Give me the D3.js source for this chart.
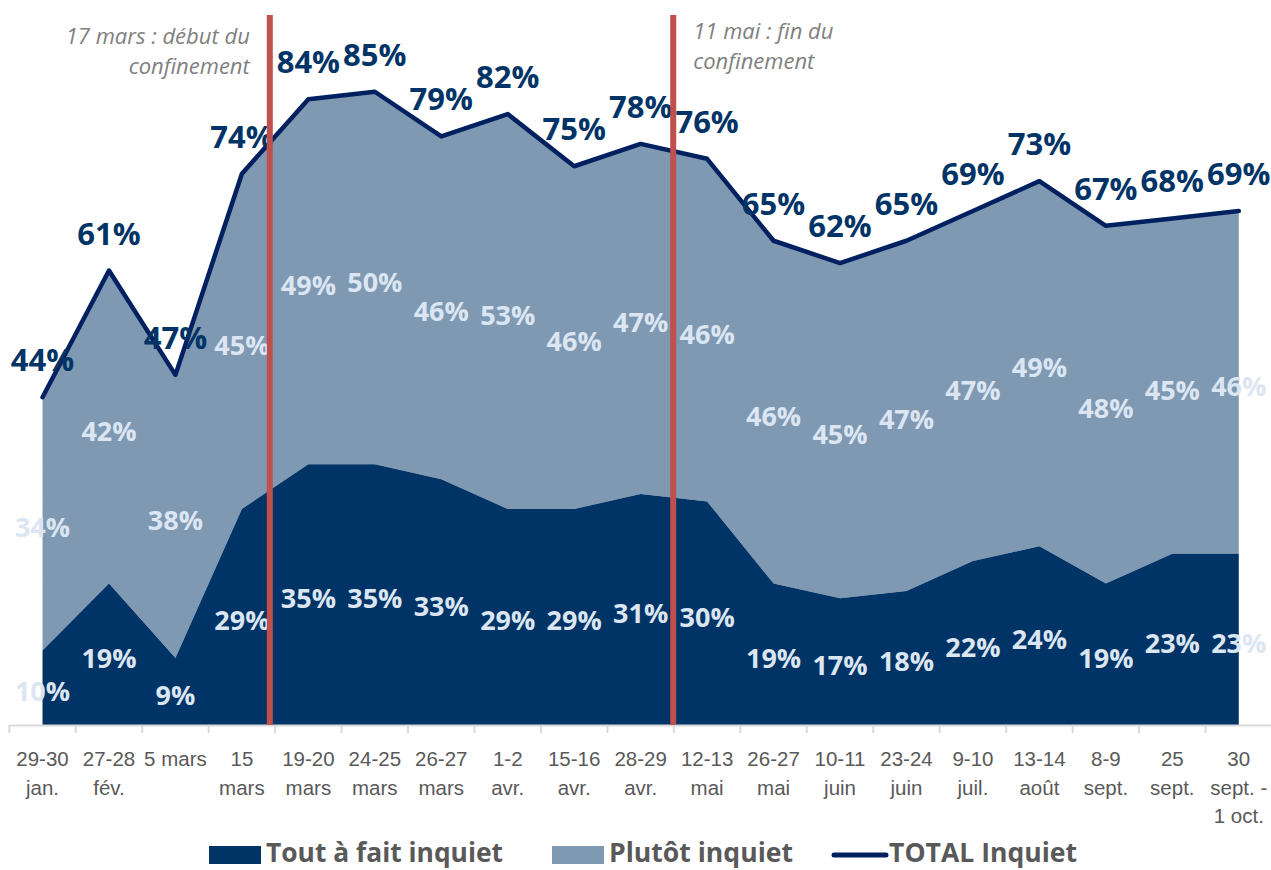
<!DOCTYPE html>
<html lang="fr">
<head>
<meta charset="UTF-8">
<title>Inquiétude</title>
<script src="https://d3js.org/d3.v7.min.js"></script>
<style>
  body {margin: 0; background: #fff;}
  svg {display: block; font-family: "Open Sans", sans-serif;}
</style>
</head>
<body>
<svg id="chart" width="1271" height="870"></svg>
<script>
// data
let categories = ["29-30\njan.", "27-28\nfév.", "5 mars", "15\nmars", "19-20\nmars", "24-25\nmars",
    "26-27\nmars", "1-2\navr.", "15-16\navr.", "28-29\navr.", "12-13\nmai", "26-27\nmai",
    "10-11\njuin", "23-24\njuin", "9-10\njuil.", "13-14\naoût", "8-9\nsept.", "25\nsept.",
    "30\nsept. -\n1 oct."];
let toutAFait = [10, 19, 9, 29, 35, 35, 33, 29, 29, 31, 30, 19, 17, 18, 22, 24, 19, 23, 23];
let plutot = [34, 42, 38, 45, 49, 50, 46, 53, 46, 47, 46, 46, 45, 47, 47, 49, 48, 45, 46];
let total = [44, 61, 47, 74, 84, 85, 79, 82, 75, 78, 76, 65, 62, 65, 69, 73, 67, 68, 69];
let seriesNames = ["Tout à fait inquiet", "Plutôt inquiet", "TOTAL Inquiet"];
let events = [
    {after: 3, lines: ["17 mars : début du", "confinement"]},
    {after: 9, lines: ["11 mai : fin du", "confinement"]}
];

const svg = d3.select("#chart");
const colDark = "#003366", colLight = "#7f99b3", colLine = "#002060";
const colLabel = "#dce6f2", colTotal = "#003366";

let x = d3.scaleBand().domain(categories).range([9.3, 1272]);
let cx = i => x(categories[i]) + x.bandwidth() / 2;
let y = d3.scaleLinear().domain([0, 100]).range([725, -20]);

let rows = categories.map((c, i) => ({i: i, a: toutAFait[i], b: plutot[i], t: total[i]}));

// areas
let areaDark = d3.area().x(d => cx(d.i)).y0(y(0)).y1(d => y(d.a));
let areaLight = d3.area().x(d => cx(d.i)).y0(d => y(d.a)).y1(d => y(d.t));
svg.append("path").datum(rows).attr("d", areaLight).attr("fill", colLight);
svg.append("path").datum(rows).attr("d", areaDark).attr("fill", colDark);

// total line
let line = d3.line().x(d => cx(d.i)).y(d => y(d.t));
svg.append("path").datum(rows).attr("d", line)
    .attr("fill", "none").attr("stroke", colLine).attr("stroke-width", 4.5)
    .attr("stroke-linejoin", "round").attr("stroke-linecap", "round");

// axis
let axis = svg.append("g").attr("transform", "translate(0," + y(0) + ")")
    .call(d3.axisBottom(x).tickSize(0).tickSizeOuter(0).tickPadding(0));
axis.select(".domain").attr("stroke", "#d9d9d9").attr("stroke-width", 2);
axis.selectAll(".tick text").each(function (d) {
    let t = d3.select(this).text("").attr("fill", "#595959")
        .attr("font-size", 20.5).attr("y", 0).attr("dy", null);
    d.split("\n").forEach((s, k) => {
        t.append("tspan").attr("x", 0).attr("y", 41 + k * 28.5).text(s);
    });
});
let bounds = categories.map(c => x(c)).concat([x.range()[1]]);
axis.selectAll(".bound").data(bounds).join("line")
    .attr("x1", d => d).attr("x2", d => d).attr("y1", 0).attr("y2", 8)
    .attr("stroke", "#d9d9d9").attr("stroke-width", 2);

// data labels
let labels = svg.append("g").attr("font-weight", "bold").attr("text-anchor", "middle")
    .attr("dominant-baseline", "central");
labels.selectAll(".ld").data(rows).join("text")
    .attr("x", d => cx(d.i)).attr("y", d => (y(0) + y(d.a)) / 2 + 3)
    .attr("fill", colLabel).attr("font-size", 27).text(d => d.a + "%");
labels.selectAll(".ll").data(rows).join("text")
    .attr("x", d => cx(d.i)).attr("y", d => (y(d.a) + y(d.t)) / 2 + 3)
    .attr("fill", colLabel).attr("font-size", 27).text(d => d.b + "%");
labels.selectAll(".lt").data(rows).join("text")
    .attr("x", d => cx(d.i)).attr("y", d => y(d.t) - 38)
    .attr("fill", colTotal).attr("font-size", 31).text(d => d.t + "%");

// confinement markers
events.forEach((e, k) => {
    let xe = k === 0 ? cx(e.after) + 0.42 * x.step() : cx(e.after) + 0.49 * x.step();
    svg.append("line").attr("x1", xe).attr("x2", xe).attr("y1", 15).attr("y2", y(0))
        .attr("stroke", "#c0504d").attr("stroke-width", 6);
    let t = svg.append("text").attr("font-style", "italic").attr("font-size", 22)
        .attr("fill", "#808080").attr("text-anchor", k === 0 ? "end" : "start");
    e.lines.forEach((s, j) => {
        t.append("tspan").attr("x", k === 0 ? xe - 20 : xe + 20)
            .attr("y", (k === 0 ? 44 : 39) + j * 29.5).text(s);
    });
});

// legend
let legendX = [209, 552, 832];
let legendW = [237, 184, 188];
let lg = svg.append("g");
seriesNames.forEach((n, k) => {
    if (k < 2) {
        lg.append("rect").attr("x", legendX[k]).attr("y", 846).attr("width", 52).attr("height", 18)
            .attr("fill", k === 0 ? colDark : colLight);
    } else {
        lg.append("line").attr("x1", legendX[k] + 2).attr("x2", legendX[k] + 54)
            .attr("y1", 855).attr("y2", 855).attr("stroke", colLine)
            .attr("stroke-width", 5).attr("stroke-linecap", "round");
    }
    lg.append("text").attr("x", legendX[k] + 57).attr("y", 862)
        .attr("font-size", 26).attr("font-weight", "bold").attr("fill", "#595959")
        .attr("textLength", legendW[k]).attr("lengthAdjust", "spacingAndGlyphs").text(n);
});
</script>
</body>
</html>
